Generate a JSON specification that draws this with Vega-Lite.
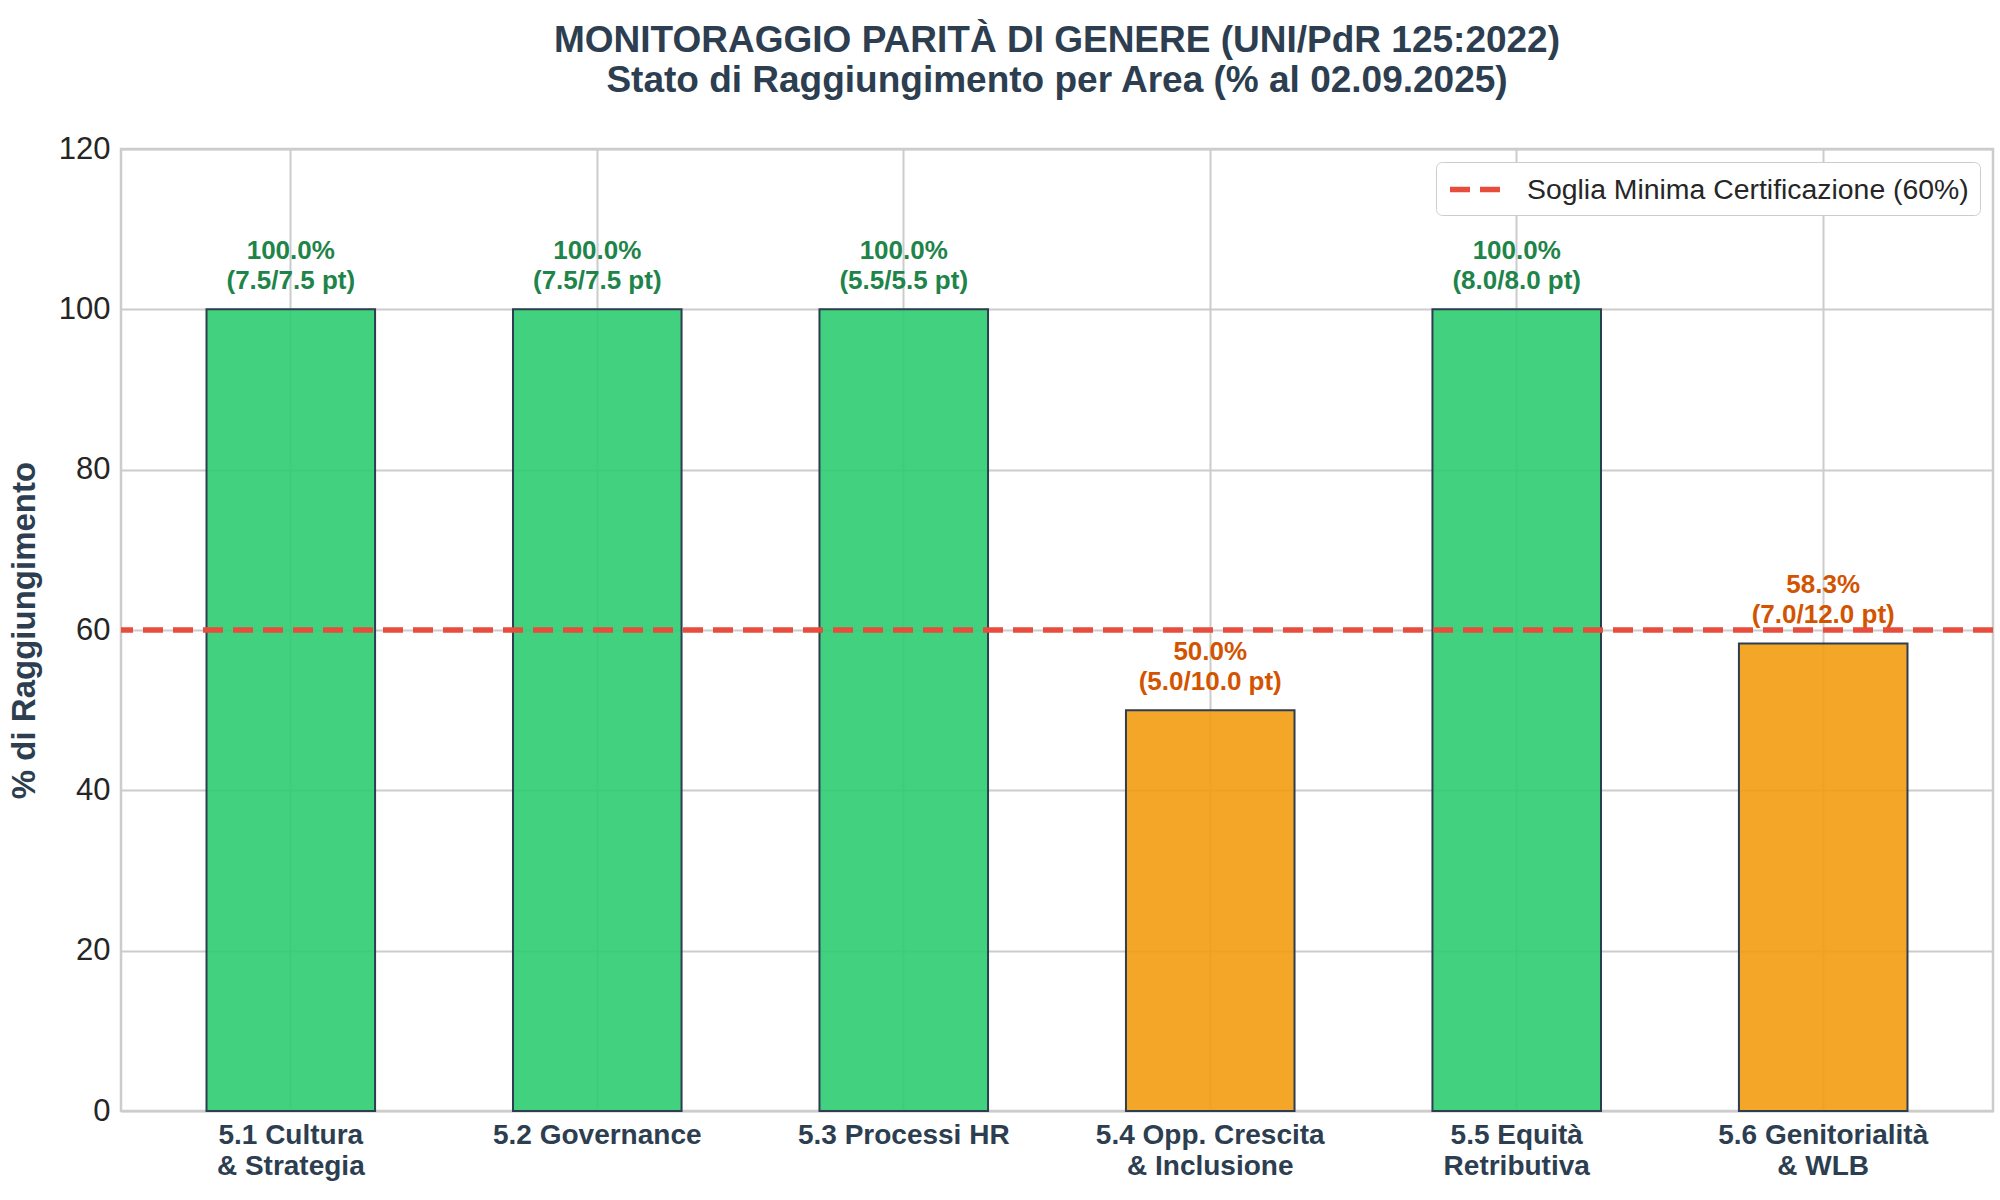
{
  "$schema": "https://vega.github.io/schema/vega-lite/v6.json",
  "width": 1872,
  "height": 962,
  "autosize": {"type": "none"},
  "padding": {"left": 121, "top": 149, "right": 7, "bottom": 89},
  "background": "white",
  "title": {
    "text": ["MONITORAGGIO PARITÀ DI GENERE (UNI/PdR 125:2022)", "Stato di Raggiungimento per Area (% al 02.09.2025)"],
    "fontSize": 37,
    "fontWeight": "bold",
    "color": "#2c3e50",
    "lineHeight": 40,
    "anchor": "middle",
    "offset": 33
  },
  "config": {
    "font": "Liberation Sans",
    "view": {"stroke": "#cccccc", "strokeWidth": 2.5}
  },
  "data": {
    "values": [
      {"area": "5.1 Cultura\n& Strategia", "pct": 100, "label": "100.0%\n(7.5/7.5 pt)"},
      {"area": "5.2 Governance", "pct": 100, "label": "100.0%\n(7.5/7.5 pt)"},
      {"area": "5.3 Processi HR", "pct": 100, "label": "100.0%\n(5.5/5.5 pt)"},
      {"area": "5.4 Opp. Crescita\n& Inclusione", "pct": 50, "label": "50.0%\n(5.0/10.0 pt)"},
      {"area": "5.5 Equità\nRetributiva", "pct": 100, "label": "100.0%\n(8.0/8.0 pt)"},
      {"area": "5.6 Genitorialità\n& WLB", "pct": 58.33, "label": "58.3%\n(7.0/12.0 pt)"}
    ]
  },
  "encoding": {
    "x": {
      "field": "area",
      "type": "nominal",
      "sort": null,
      "scale": {"paddingInner": 0.45, "paddingOuter": 0.279},
      "axis": {
        "title": null,
        "labelAngle": 0,
        "labelExpr": "split(datum.label, '\\n')",
        "labelFontSize": 28,
        "labelFontWeight": "bold",
        "labelColor": "#2c3e50",
        "labelLineHeight": 31,
        "labelPadding": 10,
        "labelLimit": 500,
        "domain": false,
        "ticks": false,
        "tickSize": 0,
        "grid": true,
        "gridColor": "#cccccc",
        "gridWidth": 2
      }
    },
    "y": {
      "field": "pct",
      "type": "quantitative",
      "scale": {"domain": [0, 120], "nice": false},
      "axis": {
        "title": "% di Raggiungimento",
        "titleFontSize": 33,
        "titleFontWeight": "bold",
        "titleColor": "#2c3e50",
        "titlePadding": 17,
        "values": [0, 20, 40, 60, 80, 100, 120],
        "labelFontSize": 31,
        "labelColor": "#262626",
        "labelPadding": 11,
        "domain": false,
        "ticks": false,
        "tickSize": 0,
        "grid": true,
        "gridColor": "#cccccc",
        "gridWidth": 2
      }
    }
  },
  "layer": [
    {
      "mark": {"type": "bar", "stroke": "#2c3e50", "strokeWidth": 2, "fillOpacity": 0.9},
      "encoding": {
        "fill": {
          "condition": {"test": "datum.pct >= 60", "value": "#2ecc71"},
          "value": "#f39c12"
        }
      }
    },
    {
      "mark": {
        "type": "text",
        "baseline": "bottom",
        "dy": -45,
        "fontSize": 26,
        "fontWeight": "bold",
        "lineHeight": 30,
        "lineBreak": "\n"
      },
      "encoding": {
        "text": {"field": "label"},
        "color": {
          "condition": {"test": "datum.pct >= 60", "value": "#1e8449"},
          "value": "#d35400"
        }
      }
    },
    {
      "data": {"values": [{"soglia_val": 60, "soglia": "Soglia Minima Certificazione (60%)"}]},
      "mark": {"type": "rule", "strokeWidth": 5.5, "strokeDash": [20, 10]},
      "encoding": {
        "x": null,
        "y": {"field": "soglia_val", "type": "quantitative"},
        "color": {
          "field": "soglia",
          "type": "nominal",
          "scale": {"range": ["#e74c3c"]},
          "legend": {
            "title": null,
            "orient": "top-right",
            "offset": 13,
            "padding": 11,
            "cornerRadius": 6,
            "strokeColor": "#cccccc",
            "fillColor": "white",
            "symbolType": "M-1,0H2.8",
            "symbolSize": 729,
            "symbolDash": [20, 10],
            "symbolStrokeWidth": 5.5,
            "labelOffset": 47,
            "labelFontSize": 28.4,
            "labelColor": "#262626",
            "labelLimit": 600
          }
        }
      }
    }
  ]
}
